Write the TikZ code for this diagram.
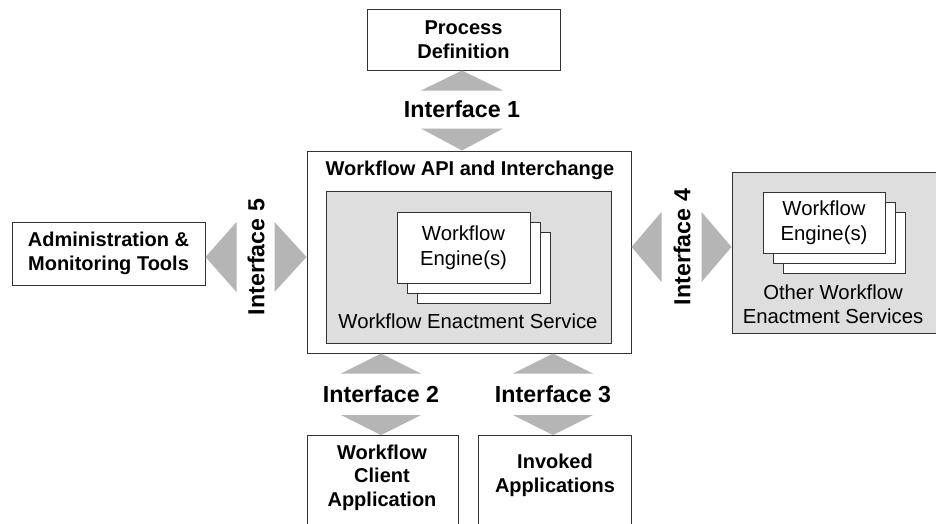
\documentclass[tikz,border=0pt]{standalone}
\usepackage{fontspec}
\setmainfont{Liberation Sans}
\definecolor{arrowgray}{RGB}{181,181,181}
\definecolor{servicegray}{RGB}{222,222,222}

\begin{document}
\begin{tikzpicture}[x=1pt, y=-1pt,
  box/.style = {draw=black!80, line width=1pt, fill=white, inner sep=0pt, align=center},
  service/.style = {box, fill=servicegray},
  engine/.style = {box, minimum width=133, minimum height=71},
  smallengine/.style = {box, minimum width=122, minimum height=61},
  title/.style = {font=\fontsize{20}{23.5}\selectfont\bfseries, align=center},
  plain/.style = {font=\fontsize{20.3}{24.5}\selectfont, align=center},
  iface/.style = {font=\fontsize{23.2}{27}\selectfont\bfseries, inner sep=0pt},
  tri/.style = {fill=arrowgray},
  ]
  \clip (0,0) rectangle (936,523);
  \fill[white] (0,0) rectangle (936,523);

  \node[box, title, minimum width=193, minimum height=61] (pd) at (463.5,39.5) {Process\\Definition};
  \node[box, minimum width=324, minimum height=202] (api) at (469,252) {};
  \node[title] (apititle) at (470,170) {Workflow API and Interchange};
  \node[service, minimum width=285, minimum height=152] (wes) at (468.5,267) {};
  \node[engine] (eng3) at (483.5,267.5) {};
  \node[engine] (eng2) at (473.5,257.5) {};
  \node[engine, plain] (eng1) at (463.5,247.5) {Workflow\\Engine(s)};
  \node[plain] (westext) at (468,321) {Workflow Enactment Service};

  \node[service, minimum width=204, minimum height=161] (ows) at (834,252.5) {};
  \node[smallengine] (oeng3) at (844,242.5) {};
  \node[smallengine] (oeng2) at (834,232.5) {};
  \node[smallengine, plain] (oeng1) at (824,222.5) {Workflow\\Engine(s)};
  \node[plain] (owstext) at (833,304) {Other Workflow\\Enactment Services};

  \node[box, title, minimum width=193, minimum height=63] (adm) at (108.5,253.5) {Administration \&\\Monitoring Tools};

  \node[box, anchor=north, minimum width=151, minimum height=120] (wca) at (382.5,435) {};
  \node[title] (wcatext) at (382,477.5) {Workflow\\Client\\Application};
  \node[box, anchor=north, minimum width=153, minimum height=120] (inv) at (554.5,435) {};
  \node[title] (invtext) at (555,475.5) {Invoked\\Applications};

  \node[iface] (if1) at (462,109) {Interface 1};
  \node[iface] (if2) at (381,394) {Interface 2};
  \node[iface] (if3) at (553,394) {Interface 3};
  \node[iface, rotate=90] (if4) at (682,247) {Interface 4};
  \node[iface, rotate=90] (if5) at (256,257) {Interface 5};

  \fill[tri] (pd.south -| if1) -- ++(-41,20) -- ++(82,0) -- cycle;
  \fill[tri] (api.north -| if1) -- ++(-41,-22) -- ++(82,0) -- cycle;
  \fill[tri] (api.south -| if2) -- ++(-40,20) -- ++(80,0) -- cycle;
  \fill[tri] (wca.north -| if2) -- ++(-40,-20) -- ++(80,0) -- cycle;
  \fill[tri] (api.south -| if3) -- ++(-40,20) -- ++(80,0) -- cycle;
  \fill[tri] (inv.north -| if3) -- ++(-40,-20) -- ++(80,0) -- cycle;
  \fill[tri] (adm.east |- if5) -- ++(31,-35) -- ++(0,70) -- cycle;
  \fill[tri] (api.west |- if5) -- ++(-32,-35) -- ++(0,70) -- cycle;
  \fill[tri] (api.east |- if4) -- ++(30,-35) -- ++(0,70) -- cycle;
  \fill[tri] (ows.west |- if4) -- ++(-30,-35) -- ++(0,70) -- cycle;
\end{tikzpicture}
\end{document}
